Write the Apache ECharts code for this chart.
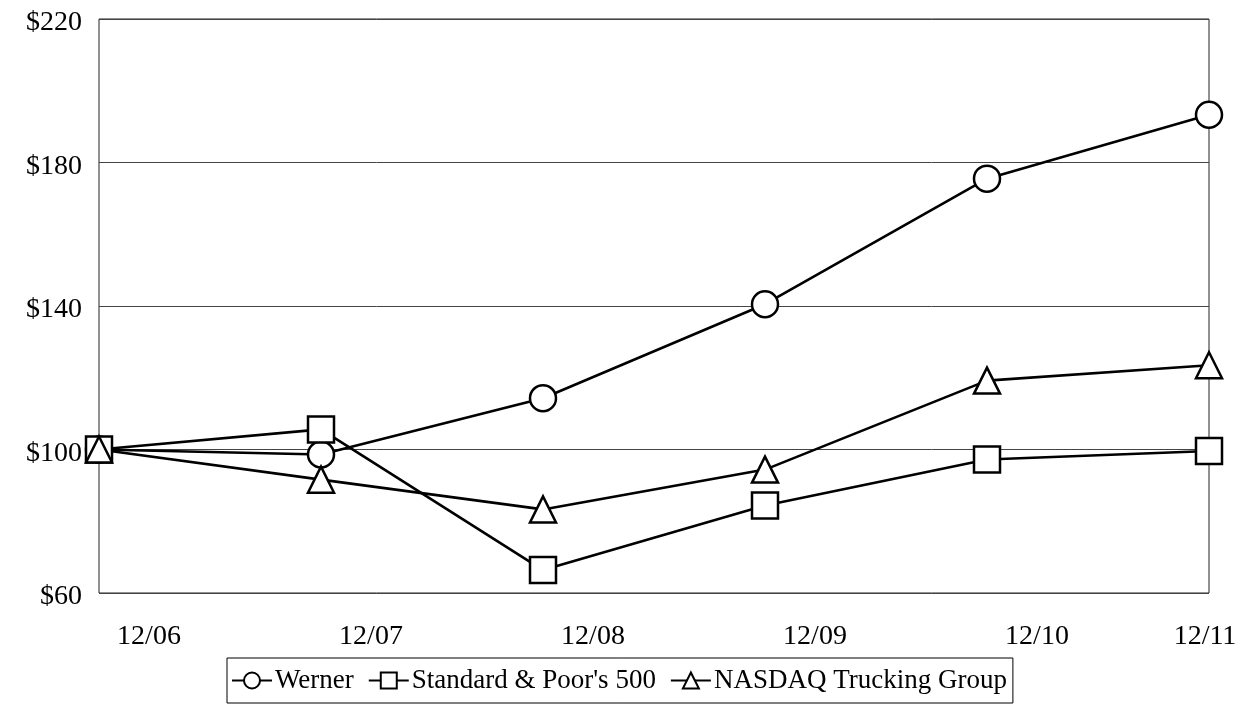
<!DOCTYPE html>
<html>
<head>
<meta charset="utf-8">
<script src="https://cdn.jsdelivr.net/npm/echarts@6/dist/echarts.min.js"></script>
<style>
html,body{margin:0;padding:0;background:#fff;}
#c{width:1244px;height:726px;}
</style>
</head>
<body>
<div id="c"></div>
<script>
const categories = ['12/06','12/07','12/08','12/09','12/10','12/11'];
const werner = [100, 98.6, 114.3, 140.5, 175.5, 193.3];
const sp500 = [100, 105.6, 66.4, 84.4, 97.2, 99.6];
const nasdaqTrucking = [100, 91.6, 83.3, 94.4, 119.2, 123.5];
const seriesNames = ['Werner', "Standard & Poor's 500", 'NASDAQ Trucking Group'];

const font = 'Liberation Serif, Times New Roman, serif';
function mk(name, data, symbol) {
  return {
    name: name, type: 'line', data: data, symbol: symbol, symbolSize: 26,
    showAllSymbol: true,
    lineStyle: {color: '#000', width: 2.6},
    itemStyle: {color: '#fff', borderColor: '#000', borderWidth: 2.5},
    emphasis: {disabled: true}
  };
}
const chart = echarts.init(document.getElementById('c'));
chart.setOption({
  animation: false,
  backgroundColor: '#fff',
  grid: {left: 99, right: 35, top: 19, bottom: 133, show: true, borderColor: '#222', borderWidth: 1},
  xAxis: {
    type: 'category', data: categories, boundaryGap: false,
    axisLine: {show: false}, axisTick: {show: false}, splitLine: {show: false},
    axisLabel: {
      fontFamily: font, fontSize: 28, color: '#000', margin: 30,
      formatter: (v, i) => i === categories.length - 1 ? '{b|' + v + '}' : '{a|' + v + '}',
      rich: {
        a: {fontFamily: font, fontSize: 28, color: '#000', padding: [0, 0, 0, 100]},
        b: {fontFamily: font, fontSize: 28, color: '#000', padding: [0, 8, 0, 0]}
      }
    }
  },
  yAxis: {
    type: 'value', min: 60, max: 220, interval: 40,
    axisLine: {show: false}, axisTick: {show: false},
    splitLine: {show: true, lineStyle: {color: '#444', width: 1}},
    axisLabel: {
      fontFamily: font, fontSize: 28, color: '#000', margin: 17,
      formatter: v => '{a|$' + v + '}',
      rich: {a: {fontFamily: font, fontSize: 28, color: '#000', padding: [8, 0, 0, 0]}}
    }
  },
  legend: {
    bottom: 23, left: 227,
    data: seriesNames,
    borderColor: '#000', borderWidth: 1, padding: [9, 6, 9, 4],
    itemWidth: 40, itemHeight: 20, itemGap: 14,
    textStyle: {fontFamily: font, fontSize: 27, color: '#000', padding: [0, 0, 0, -2]}
  },
  series: [
    mk(seriesNames[0], werner, 'circle'),
    mk(seriesNames[1], sp500, 'rect'),
    mk(seriesNames[2], nasdaqTrucking, 'triangle')
  ]
});
</script>
</body>
</html>
